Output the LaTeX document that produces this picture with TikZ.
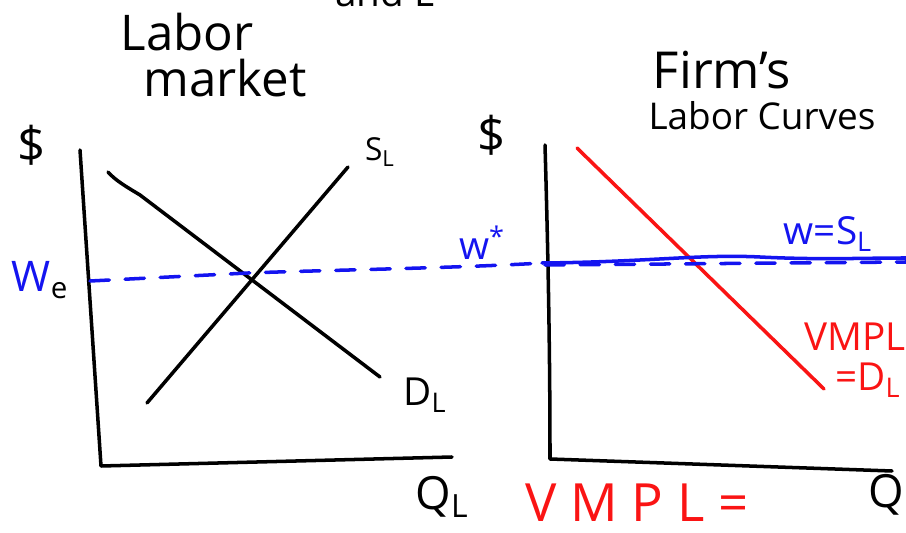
\documentclass[tikz,border=0pt]{standalone}
\usepackage{fontspec}
\setmainfont{Open Sans}
\definecolor{penblue}{RGB}{20,20,240}
\definecolor{penred}{RGB}{250,20,20}
\begin{document}
\begin{tikzpicture}[x=0.02cm,y=-0.02cm,
  pen/.style={line width=2pt,line cap=round,line join=round},
  lbl/.style={inner sep=0pt,font=\fontsize{22}{24}\selectfont},
  dashblue/.style={pen,penblue,dash pattern=on 11pt off 9pt}]
\useasboundingbox (0,0) rectangle (906,533);
% titles
\node[lbl,font=\fontsize{22}{24}\selectfont,anchor=base] (tand) at (385,7) {and L};
\node[lbl,font=\fontsize{28}{30}\selectfont] (tlabor) at (187,32) {Labor};
\node[lbl,font=\fontsize{28}{30}\selectfont] (tmarket) at (225,78) {market};
\node[lbl,font=\fontsize{29}{31}\selectfont] (tfirm) at (722,70) {Firm's};
\node[lbl,font=\fontsize{21}{23}\selectfont] (tcurves) at (762,116) {Labor Curves};
% left chart coordinates
\coordinate (LAtop) at (80,150);
\coordinate (LO) at (101,466);
\coordinate (LAright) at (452,457);
\coordinate (Dstart) at (108,172);
\coordinate (Dend) at (380,377);
\coordinate (Sstart) at (147,403);
\coordinate (Send) at (348,167);
\coordinate (We) at (90,281);
\coordinate (X) at (248,273);
\coordinate (Wlink) at (542,263);
% left axes
\draw[pen] (LAtop) -- (LO) -- (LAright);
\draw[pen] (Dstart) .. controls (115,180) and (125,186) .. (140,195) -- (Dend);
\draw[pen] (Sstart) -- (Send);
\draw[dashblue] (We) -- (X) .. controls (330,270) and (460,268) .. (Wlink);
\node[lbl,font=\fontsize{28}{30}\selectfont] (dol1) at (32,145) {\$};
\node[lbl,font=\fontsize{18}{20}\selectfont] (SL) at (380,152) {S\textsubscript{L}};
\node[lbl,font=\fontsize{22}{24}\selectfont] (DL) at (425,395) {D\textsubscript{L}};
\node[lbl,font=\fontsize{26}{28}\selectfont] (QL) at (442,497) {Q\textsubscript{L}};
\node[lbl,font=\fontsize{24}{26}\selectfont,penblue] (WE) at (40,280) {W\textsubscript{\color{black}e}};
% right chart
\coordinate (RAtop) at (545,145);
\coordinate (RO) at (550,459);
\coordinate (RAright) at (892,471);
\coordinate (Rtop) at (577,148);
\coordinate (Rend) at (824,389);
\coordinate (Wright) at (906,258);
\draw[pen] (RAtop) .. controls (548,250) and (550,350) .. (RO) -- (RAright);
\draw[pen,penred] (Rtop) -- (Rend);
\draw[dashblue] (545,265) -- (906,262);
\draw[pen,penblue] (Wlink) .. controls (650,262) and (700,254) .. (760,257) .. controls (820,260) and (860,258) .. (Wright);
\node[lbl,font=\fontsize{28}{30}\selectfont] (dol2) at (492,135) {\$};
\node[lbl,penblue] (wstar) at (482,243) {w\textsuperscript{*}};
\node[lbl,penblue] (wSL) at (828,234) {w=S\textsubscript{L}};
\node[lbl,penred,anchor=east] (vmpl) at (906,337) {VMPL};
\node[lbl,penred] (eqDL) at (868,380) {=D\textsubscript{L}};
\node[lbl,penred,font=\fontsize{30}{32}\selectfont] (vmpleq) at (637,503) {V M P L =};
\node[lbl,font=\fontsize{26}{28}\selectfont,anchor=west] (Q2) at (868,495) {Q};
\end{tikzpicture}
\end{document}
